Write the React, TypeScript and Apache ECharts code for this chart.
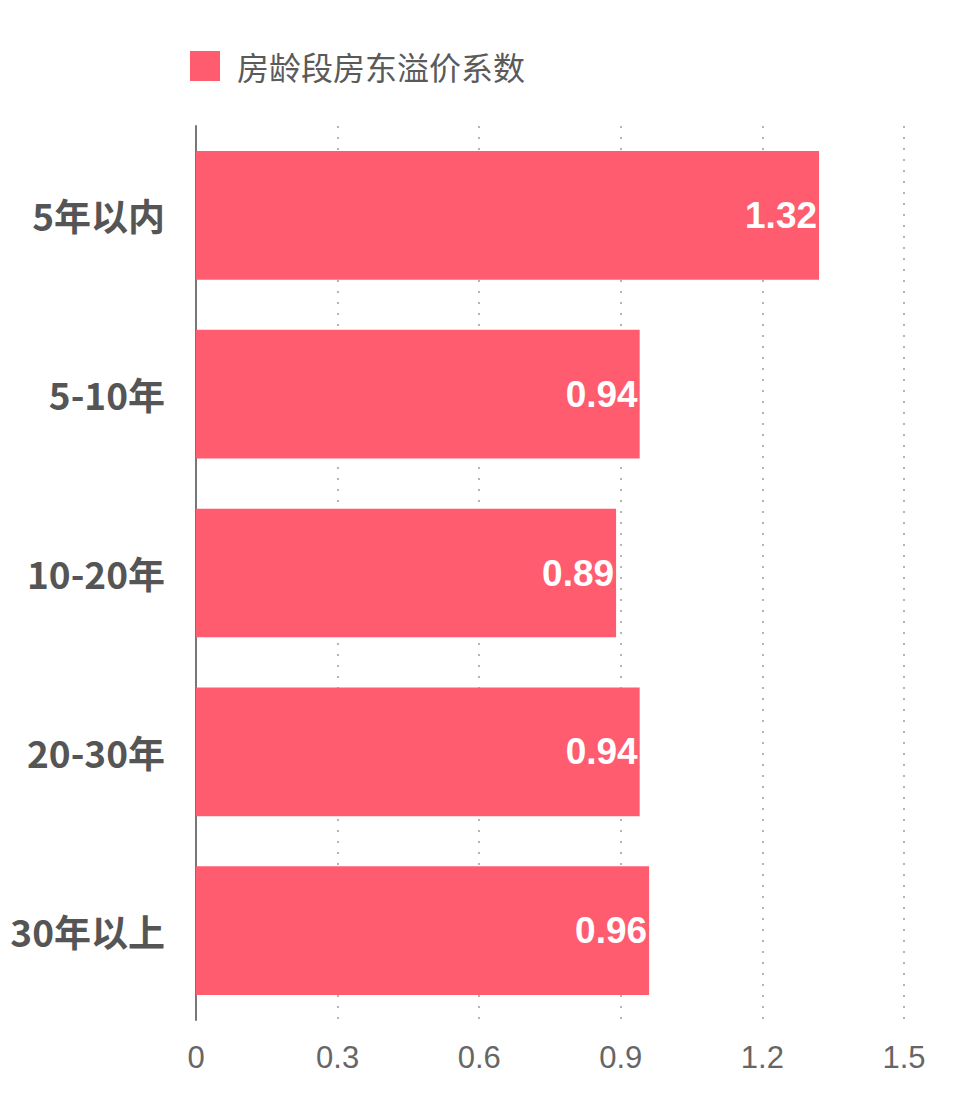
import React, { useEffect, useRef } from "react";
import * as echarts from "echarts";

const categories = ["5年以内", "5-10年", "10-20年", "20-30年", "30年以上"];
const values = [1.32, 0.94, 0.89, 0.94, 0.96];
const seriesName = "房龄段房东溢价系数";

export default function App() {
  const ref = useRef<HTMLDivElement>(null);
  useEffect(() => {
    if (!ref.current) return;
    const chart = echarts.init(ref.current, undefined, { renderer: "svg" });
    chart.setOption({
      animation: false,
      backgroundColor: "#ffffff",
      legend: {
        data: [seriesName],
        left: 190,
        top: 50,
        padding: 0,
        itemWidth: 30,
        itemHeight: 30,
        itemGap: 10,
        icon: "rect",
        textStyle: { fontSize: 32, color: "#5a5a5a", fontFamily: "Noto Sans CJK SC", padding: [0, 0, 0, 12] },
      },
      grid: { left: 196, right: 56, top: 126, bottom: 80, containLabel: false },
      xAxis: {
        type: "value",
        min: 0,
        max: 1.5,
        interval: 0.3,
        axisLine: { show: false },
        axisTick: { show: false },
        axisLabel: { fontSize: 31, color: "#666", margin: 22, fontFamily: "Liberation Sans" },
        splitLine: { show: true, lineStyle: { color: "#b5b5b5", width: 2, type: [2, 9] } },
      },
      yAxis: {
        type: "category",
        inverse: true,
        data: categories,
        axisLine: { show: true, lineStyle: { color: "#777", width: 2 } },
        axisTick: { show: false },
        axisLabel: { fontSize: 37, fontWeight: "bold", color: "#555", margin: 31, fontFamily: "Noto Sans CJK SC" },
      },
      series: [
        {
          name: seriesName,
          type: "bar",
          data: values,
          barCategoryGap: "28%",
          itemStyle: { color: "#ff5c6f" },
          label: {
            show: true,
            position: "insideRight",
            distance: 2,
            color: "#fff",
            fontSize: 37,
            fontWeight: "bold",
            fontFamily: "Liberation Sans",
          },
        },
      ],
    });
    return () => chart.dispose();
  }, []);
  return <div ref={ref} style={{ position: "absolute", left: 0, top: 0, width: 960, height: 1100 }} />;
}
